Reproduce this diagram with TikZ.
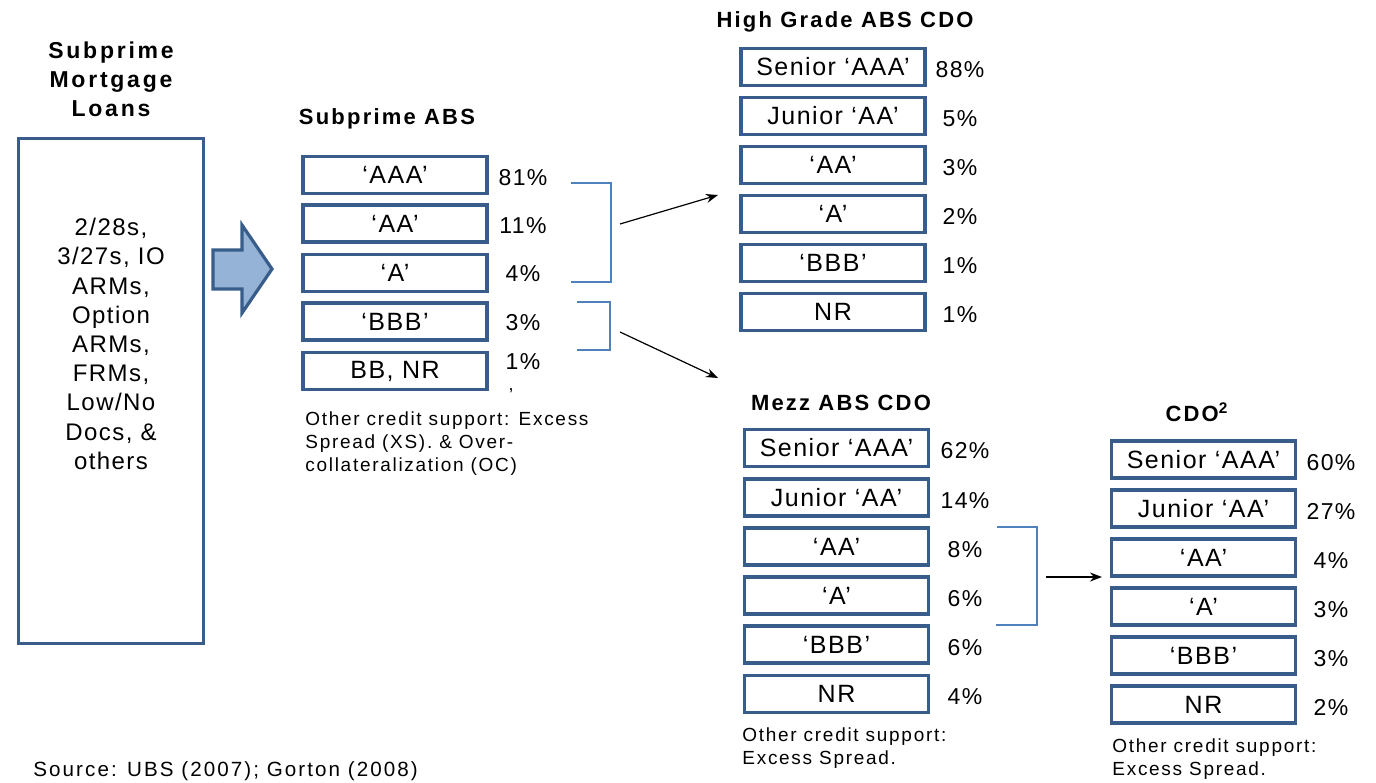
\documentclass[tikz,border=0pt]{standalone}
\usepackage{fontspec}
\setmainfont[LetterSpace=6]{Liberation Sans}
\usetikzlibrary{arrows.meta}
\definecolor{boxblue}{HTML}{385D8A}
\definecolor{arrowfill}{HTML}{95B3D7}
\definecolor{brackblue}{HTML}{4F81BD}
\begin{document}
\begin{tikzpicture}[x=0.5pt,y=-0.5pt,
  tranche/.style={draw=boxblue, line width=1.75pt, minimum width=92pt, minimum height=18.3pt, inner sep=0pt, font=\fontsize{12.5}{14}\selectfont},
  pct/.style={inner sep=0pt, font=\fontsize{11.5}{13}\selectfont},
  ttl/.style={inner sep=0pt, align=center, font=\bfseries\addfontfeature{LetterSpace=10}\fontsize{11}{14.5}\selectfont},
  note/.style={inner sep=0pt, align=left, anchor=north west, font=\addfontfeature{LetterSpace=9}\fontsize{9.5}{11.7}\selectfont},
  bracket/.style={draw=brackblue, line width=0.6pt},
  link/.style={draw=black, line width=0.6pt, -{Stealth[length=6pt,width=4.5pt]}}]
\useasboundingbox (0,0) rectangle (1376,782);

% Subprime mortgage loans
\node[ttl, font=\bfseries\addfontfeature{LetterSpace=12}\fontsize{11.5}{14.5}\selectfont] (loanttl) at (111,79) {Subprime\\Mortgage\\Loans};
\node[draw=boxblue, line width=1.75pt, minimum width=92.5pt, minimum height=252.5pt, inner sep=0pt] (loans) at (111,391) {};
\node[inner sep=0pt, align=center, font=\fontsize{12}{14.6}\selectfont] (loantxt) at (111,344)
  {2/28s,\\3/27s, IO\\ARMs,\\Option\\ARMs,\\FRMs,\\Low/No\\Docs, \&\\others};

% block arrow
\draw[boxblue, fill=arrowfill, line width=1.6pt, line join=miter]
  (213,250) -- (242,250) -- (242,225) -- (272,269) -- (242,313) -- (242,289) -- (213,289) -- cycle;

% Subprime ABS
\node[ttl] (absttl) at (387,119) {Subprime ABS};
\foreach \lab/\p/\y/\py [count=\i] in {‘AAA’/81/175/178, ‘AA’/11/223.5/226, ‘A’/4/273/274, ‘BBB’/3/321.5/323, {BB, NR}/1/371/362}{
  \node[tranche] (abs\i) at (395,\y) {\lab};
  \node[pct] (absp\i) at (523,\py) {\p\%};
}
\node[inner sep=0pt, font=\fontsize{9}{10}\selectfont] (comma) at (511,391) {,};
\node[note] (absnote) at (305,411) {Other credit support: Excess\\Spread (XS). \& Over-\\collateralization (OC)};

\draw[bracket] (571,183) -- (611,183) -- (611,282) -- (571,282);
\draw[bracket] (577,302) -- (610,302) -- (610,350) -- (577,350);
\coordinate (a1s) at (620,224);
\coordinate (a1e) at (718,195);
\coordinate (a2s) at (620,332);
\coordinate (a2e) at (718,378);
\draw[link] (a1s) -- (a1e);
\draw[link] (a2s) -- (a2e);

% High Grade ABS CDO
\node[ttl] (hgttl) at (845,22) {High Grade ABS CDO};
\foreach \lab/\p/\y [count=\i] in {Senior ‘AAA’/88/67, Junior ‘AA’/5/116, ‘AA’/3/165, ‘A’/2/214, ‘BBB’/1/263, NR/1/312}{
  \node[tranche] (hg\i) at (833,\y) {\lab};
  \node[pct] (hgp\i) at (960,\y+3) {\p\%};
}

% Mezz ABS CDO
\node[ttl] (mzttl) at (841,403) {Mezz ABS CDO};
\foreach \lab/\p/\y [count=\i] in {Senior ‘AAA’/62/448, Junior ‘AA’/14/497.5, ‘AA’/8/546.5, ‘A’/6/595.5, ‘BBB’/6/644.5, NR/4/694}{
  \node[tranche] (mz\i) at (836.5,\y) {\lab};
  \node[pct] (mzp\i) at (965,\y+3) {\p\%};
}
\node[note] (mznote) at (742,727) {Other credit support:\\Excess Spread.};
\draw[bracket] (997,527) -- (1037,527) -- (1037,625) -- (996,625);
\coordinate (a3s) at (1046,577);
\coordinate (a3e) at (1102,577);
\draw[link] (a3s) -- (a3e);

% CDO^2
\node[ttl] (c2ttl) at (1197,412) {CDO\textsuperscript{2}};
\foreach \lab/\p/\y [count=\i] in {Senior ‘AAA’/60/459.5, Junior ‘AA’/27/508.5, ‘AA’/4/557.5, ‘A’/3/606.5, ‘BBB’/3/655.5, NR/2/704.5}{
  \node[tranche] (cc\i) at (1203.5,\y) {\lab};
  \node[pct] (ccp\i) at (1331,\y+3) {\p\%};
}
\node[note] (ccnote) at (1112,738) {Other credit support:\\Excess Spread.};

% source
\node[inner sep=0pt, anchor=west, font=\addfontfeature{LetterSpace=10}\fontsize{10.3}{12}\selectfont] (src) at (33,771) {Source: UBS (2007); Gorton (2008)};
\end{tikzpicture}
\end{document}
